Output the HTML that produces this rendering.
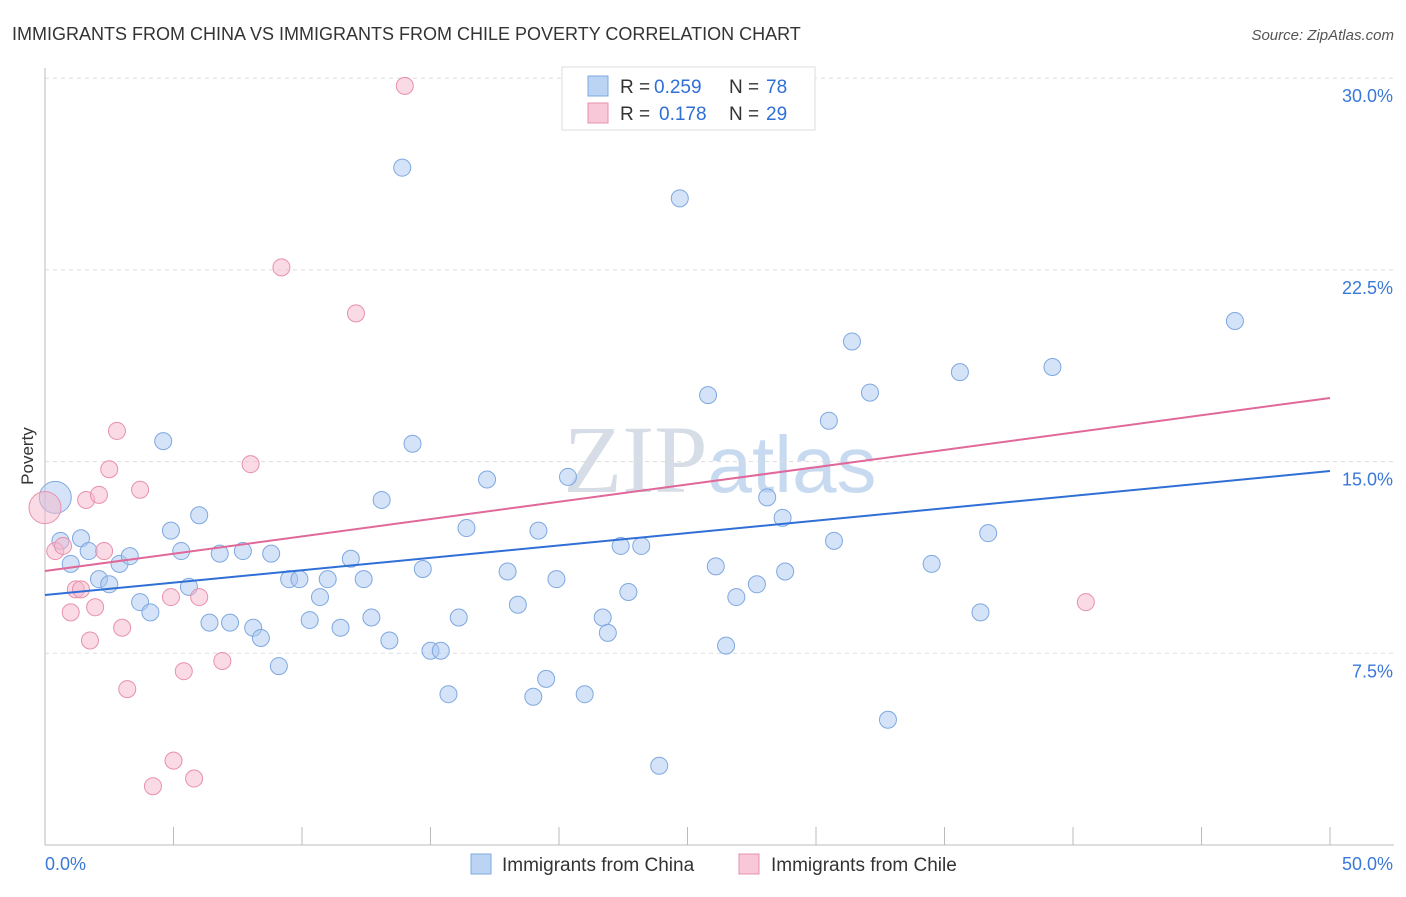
<!DOCTYPE html>
<html><head><meta charset="utf-8"><style>
body{margin:0;background:#fff;font-family:"Liberation Sans",sans-serif;}
</style></head><body>
<svg width="1406" height="892" xmlns="http://www.w3.org/2000/svg" font-family="Liberation Sans, sans-serif">
<text x="12" y="40" font-size="18" fill="#333">IMMIGRANTS FROM CHINA VS IMMIGRANTS FROM CHILE POVERTY CORRELATION CHART</text>
<text x="1394" y="40" font-size="15" fill="#555" font-style="italic" text-anchor="end">Source: ZipAtlas.com</text>
<text x="720" y="492" font-size="96" fill="#d6dde6" text-anchor="middle" font-family="Liberation Serif, serif">ZIP<tspan fill="#c8daf0" font-family="Liberation Sans, sans-serif" font-size="80">atlas</tspan></text>
<g id="grid"></g>
<g id="axes"></g>
<g id="marks"></g>
<text x="33" y="456" font-size="17" fill="#333" text-anchor="middle" transform="rotate(-90 33 456)">Poverty</text>
<g>
<rect x="562" y="67" width="253" height="63" fill="#fff" stroke="#ddd"/>
<rect x="588" y="76" width="20" height="20" fill="#bcd4f4" stroke="#7fa8e0"/>
<rect x="588" y="103" width="20" height="20" fill="#f8c8d8" stroke="#e890ab"/>
<text x="620" y="93" font-size="19" fill="#333">R =</text>
<text x="654" y="93" font-size="19" fill="#2f6fd6">0.259</text>
<text x="729" y="93" font-size="19" fill="#333">N =</text>
<text x="766" y="93" font-size="19" fill="#2f6fd6">78</text>
<text x="620" y="120" font-size="19" fill="#333">R =</text>
<text x="659" y="120" font-size="19" fill="#2f6fd6">0.178</text>
<text x="729" y="120" font-size="19" fill="#333">N =</text>
<text x="766" y="120" font-size="19" fill="#2f6fd6">29</text>
</g>
<g>
<rect x="471" y="854" width="20" height="20" fill="#bcd4f4" stroke="#7fa8e0"/>
<text x="502" y="871" font-size="19" fill="#333">Immigrants from China</text>
<rect x="739" y="854" width="20" height="20" fill="#f8c8d8" stroke="#e890ab"/>
<text x="771" y="871" font-size="19" fill="#333">Immigrants from Chile</text>
</g>
</svg>
<script>
const yTicks=[7.5,15,22.5,30];
const yTickLabels=["7.5%","15.0%","22.5%","30.0%"];
const xTicks=[0,5,10,15,20,25,30,35,40,45,50];
const chinaX=[0.4,0.6,1.0,1.4,1.7,2.1,2.5,2.9,3.3,3.7,4.1,4.6,4.9,5.3,5.6,6.0,6.4,6.8,7.2,7.7,8.1,8.4,8.8,9.1,9.5,9.9,10.3,10.7,11.0,11.5,11.9,12.4,12.7,13.1,13.4,13.9,14.3,14.7,15.0,15.4,15.7,16.1,16.4,17.2,18.0,18.4,19.0,19.2,19.5,19.9,20.35,21.0,21.7,21.9,22.4,22.7,23.2,23.9,24.7,25.8,26.1,26.9,26.5,27.7,28.1,28.7,28.8,30.5,30.7,31.4,32.1,32.8,34.5,35.6,36.4,36.7,39.2,46.3];
const chinaY=[13.6,11.9,11.0,12.0,11.5,10.4,10.2,11.0,11.3,9.5,9.1,15.8,12.3,11.5,10.1,12.9,8.7,11.4,8.7,11.5,8.5,8.1,11.4,7.0,10.4,10.4,8.8,9.7,10.4,8.5,11.2,10.4,8.9,13.5,8.0,26.5,15.7,10.8,7.6,7.6,5.9,8.9,12.4,14.3,10.7,9.4,5.8,12.3,6.5,10.4,14.4,5.9,8.9,8.3,11.7,9.9,11.7,3.1,25.3,17.6,10.9,9.7,7.8,10.2,13.6,12.8,10.7,16.6,11.9,19.7,17.7,4.9,11.0,18.5,9.1,12.2,18.7,20.5];
const chileX=[0,0.4,0.7,1.0,1.2,1.4,1.6,1.75,1.95,2.1,2.3,2.5,2.8,3.0,3.2,3.7,4.2,4.9,5.0,5.4,5.8,6.0,6.9,8.0,9.2,12.1,14.0,40.5];
const chileY=[13.2,11.5,11.7,9.1,10.0,10.0,13.5,8.0,9.3,13.7,11.5,14.7,16.2,8.5,6.1,13.9,2.3,9.7,3.3,6.8,2.6,9.7,7.2,14.9,22.6,20.8,29.7,9.5];
const chinaTrend=[9.78,14.63];
const chileTrend=[10.72,17.49];
const NS="http://www.w3.org/2000/svg";
const X0=45,X1=1330,Y0=845,PY=191.7/7.5;
const sx=v=>X0+(X1-X0)*v/50, sy=v=>Y0-v*PY;
function mk(t,a,p){const e=document.createElementNS(NS,t);for(const k in a)e.setAttribute(k,a[k]);p.appendChild(e);return e;}
const grid=document.getElementById('grid'),axes=document.getElementById('axes'),marks=document.getElementById('marks');
yTicks.forEach((v,i)=>{
 const l=mk('line',{x1:X0,x2:1394,y1:sy(v),y2:sy(v),stroke:'#ddd','stroke-dasharray':'4,4'},grid);
 
 
 const t=mk('text',{x:1393,y:sy(v)+24,'font-size':18,fill:'#3a78d8','text-anchor':'end'},axes);
 t.textContent=yTickLabels[i];
 
 
});
const ax=mk('line',{x1:X0,x2:1394,y1:Y0,y2:Y0,stroke:'#bbb'},axes);


const ay=mk('line',{x1:X0,x2:X0,y1:68,y2:Y0,stroke:'#bbb'},axes);


xTicks.forEach(v=>{
 const l=mk('line',{x1:sx(v),x2:sx(v),y1:Y0,y2:Y0-18,stroke:'#bbb'},axes);
 
 
});
const xl=mk('text',{x:45,y:870,'font-size':18,fill:'#3a78d8'},axes);xl.textContent='0.0%';


const xr=mk('text',{x:1393,y:870,'font-size':18,fill:'#3a78d8','text-anchor':'end'},axes);xr.textContent='50.0%';


function pts(xs,ys,fill,stroke,name){
 xs.forEach((x,i)=>{
  const c=mk('circle',{cx:sx(x),cy:sy(ys[i]),r:i===0?16:8.5,fill:fill,'fill-opacity':0.5,stroke:stroke,'stroke-width':1},marks);
  
  
 });
}
pts(chinaX,chinaY,'#a9c8f0','#7fa8e0','china-point');
pts(chileX,chileY,'#f5b8cc','#e890ab','chile-point');
const l1=mk('line',{x1:sx(0),x2:sx(50),y1:sy(chinaTrend[0]),y2:sy(chinaTrend[1]),stroke:'#2f6fd6','stroke-width':2},marks);


const l2=mk('line',{x1:sx(0),x2:sx(50),y1:sy(chileTrend[0]),y2:sy(chileTrend[1]),stroke:'#e0689a','stroke-width':2},marks);


</script>
</body></html>
